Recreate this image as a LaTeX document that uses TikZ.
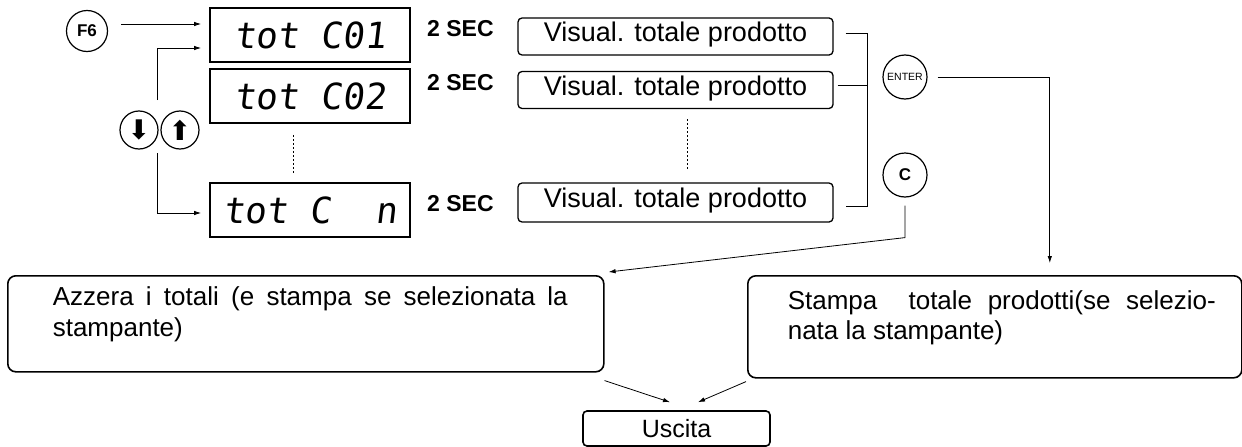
\documentclass[tikz,border=0pt]{standalone}
\usepackage{fontspec}
\setmainfont{Liberation Sans}
\newfontfamily\segfont[FakeSlant=0.12]{DejaVu Sans Mono}
\newfontfamily\symfont{DejaVu Sans}
\usetikzlibrary{arrows.meta,calc}

\begin{document}
\begin{tikzpicture}[x=1pt,y=-1pt,
  conn/.style={line width=0.8pt},
  arr/.style={conn,-{Latex[length=7pt,width=4.5pt]}},
  dots/.style={line width=0.8pt,dash pattern=on 2pt off 2pt},
  disp/.style={draw,line width=1.8pt,minimum width=200pt,minimum height=54pt,inner sep=0pt,
    font=\segfont\fontsize{36}{36}\selectfont},
  visbox/.style={draw,rounded corners=4pt,line width=1.3pt,minimum width=315pt,minimum height=37pt,
    inner sep=0pt,text height=18pt,text depth=8pt,font=\fontsize{27}{30}\selectfont},
  sec/.style={anchor=west,inner sep=0pt,font=\bfseries\fontsize{23}{23}\selectfont},
  key/.style={draw,circle,line width=1.2pt,inner sep=0pt},
  bigbox/.style={draw,rounded corners=8pt,line width=1.6pt,inner sep=0pt,anchor=north west},
  exitbox/.style={draw,rounded corners=4pt,line width=1.6pt,inner sep=0pt,
    minimum width=187pt,minimum height=35pt,font=\fontsize{25}{25}\selectfont}
]
\useasboundingbox (0,0) rectangle (1242,447);

% keys
\node[key,minimum size=41pt,font=\bfseries\fontsize{17}{17}\selectfont] (kf6) at (87,31) {F6};
\node[key,minimum size=38pt,font=\symfont\fontsize{27}{27}\selectfont] (kdown) at (139,130) {⬇};
\node[key,minimum size=38pt,font=\symfont\fontsize{27}{27}\selectfont] (kup) at (180,130) {⬆};
\node[key,minimum size=44pt,font=\fontsize{10.5}{10.5}\selectfont] (kent) at (905,77) {ENTER};
\node[key,minimum size=44pt,font=\bfseries\fontsize{17}{17}\selectfont] (kc) at (905,175) {C};

% displays
\node[disp] (d1) at (310,35) {tot C01};
\node[disp] (d2) at (310,96) {tot C02};
\node[disp] (dn) at (310,210) {tot C\ \ n};

% timing labels
\node[sec] (s1) at (427,29) {2 SEC};
\node[sec] (s2) at (427,83) {2 SEC};
\node[sec] (sn) at (427,204) {2 SEC};

% product total boxes
\node[visbox] (v1) at (675.5,36.5) {Visual. totale prodotto};
\node[visbox] (v2) at (675.5,90) {Visual. totale prodotto};
\node[visbox,minimum height=39pt] (vn) at (675.5,202.5) {Visual. totale prodotto};

% result boxes
\node[bigbox] (lbox) at (7,275) {\parbox[c][96pt][t]{596pt}{\vspace*{11pt}\hspace*{45pt}%
  \parbox[t]{515pt}{\fontsize{26}{31}\selectfont Azzera i totali (e stampa se selezionata la\linebreak stampante)}}};
\node[bigbox] (rbox) at (747,275) {\parbox[c][102pt][t]{494pt}{\vspace*{15pt}\hspace*{40pt}%
  \parbox[t]{428pt}{\fontsize{26}{30}\selectfont Stampa\ \ totale prodotti(se selezio-\linebreak nata la stampante)}}};
\node[exitbox] (exit) at (676.5,428.5) {Uscita};

% entry arrows
\draw[arr] (kf6.east) ++(13,-7) coordinate (f6out) -- (f6out -| d1.west) [shorten >=8pt];
\coordinate (udtop) at (157,100);
\coordinate (udbot) at (157,153);
\draw[arr,shorten >=8pt] (udtop) |- ($(d1.west)+(0,13)$);
\draw[arr,shorten >=8pt] (udbot) |- ($(dn.west)+(0,3)$);

% continuation dots
\draw[dots] ($(d2.south)+(-17,11)$) -- ($(dn.north)+(-17,-8)$);
\draw[dots] ($(v2.south)+(11.5,10)$) -- ($(vn.north)+(11.5,-13)$);

% bracket joining the product boxes
\draw[conn] ($(v1.east)+(12,-3.5)$) -- ++(22,0) coordinate (btop)
  -- (btop |- {$(vn.east)+(0,3.5)$}) -- ($(vn.east)+(12,3.5)$);
\draw[conn] ($(v2.east)+(4,-5)$) -- ++(30,0);

% key actions
\draw[arr,shorten >=12pt] ([xshift=10pt]kent.east) -| ($(rbox.north)+(55,0)$);
\draw[arr] ($(kc.south)+(0,8)$) -- ++(0,32) -- ($(lbox.north east)+(4,-3)$);

% exit
\draw[arr] ($(lbox.south east)+(0,8)$) -- ($(exit.north)+(-6.5,-8)$);
\draw[arr] ($(rbox.south west)+(-1,3)$) -- ($(exit.north)+(21.5,-8)$);
\end{tikzpicture}
\end{document}
